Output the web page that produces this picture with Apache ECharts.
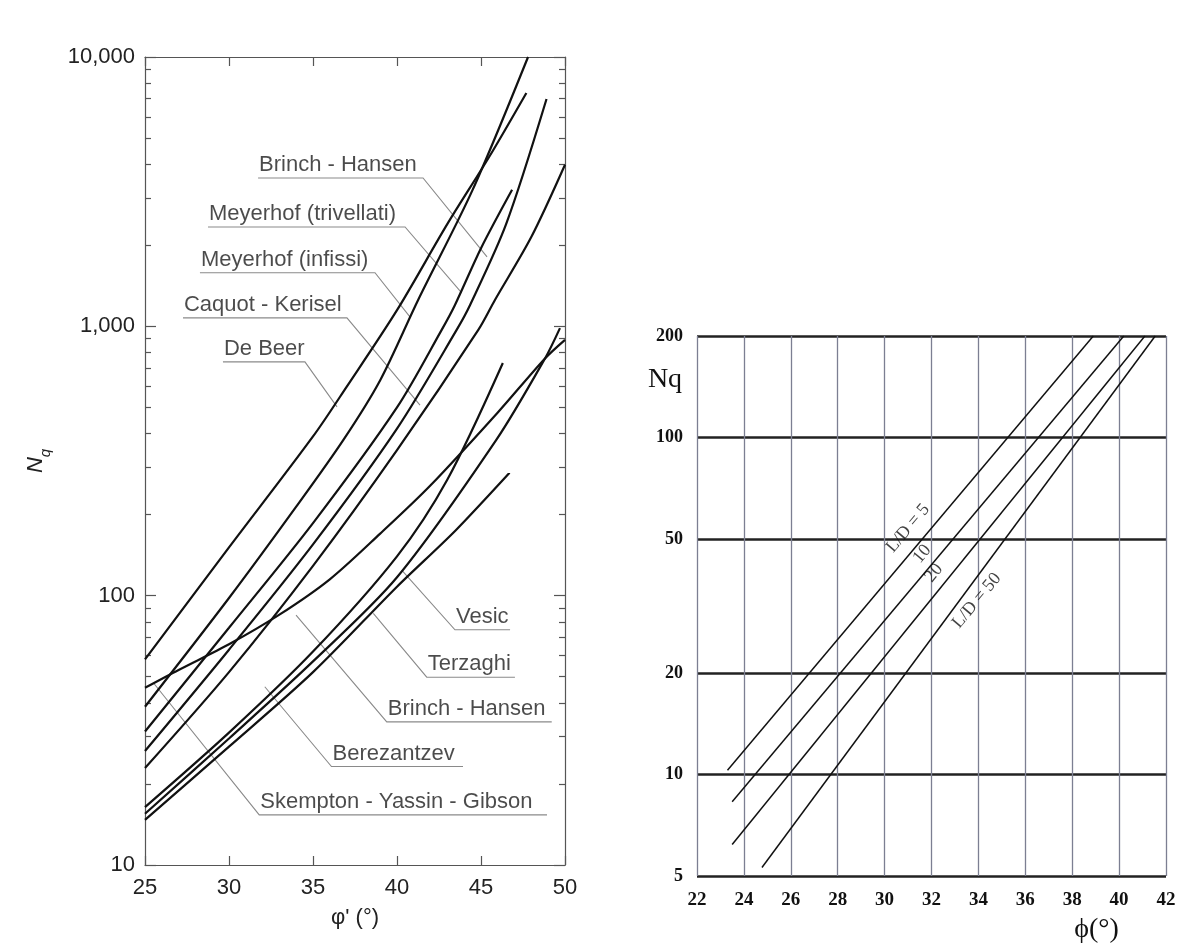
<!DOCTYPE html>
<html><head><meta charset="utf-8">
<script src="https://cdn.jsdelivr.net/npm/echarts@6/dist/echarts.min.js"></script>
<style>html,body{margin:0;padding:0;background:#fff}#c{width:1202px;height:949px}</style>
</head><body><div id="c"></div>
<script>
// ---------- LEFT CHART: Nq vs phi' (various authors) ----------
const phiTicksL = [25, 30, 35, 40, 45, 50];
const nqMajorL = [10, 100, 1000, 10000];
const nqMinorL = [20,30,40,50,60,70,80,90,200,300,400,500,600,700,800,900,2000,3000,4000,5000,6000,7000,8000,9000];

const curveDeBeer      = [[25,58],[30,151],[35,390],[37,596],[40,1148],[43,2400],[45.5,4270],[47.7,7350]];
const curveMeyInfissi  = [[25,38.7],[30,98],[34,214],[36.8,378],[39,631],[41.25,1250],[44.5,3210],[47.8,10000]];
const curveMeyTriv     = [[25,31.3],[30,76],[35,186],[40,500],[42.66,970],[43.45,1200],[45,1950],[46.85,3214]];
const curveCaquot      = [[25,26.5],[30,63],[35,155],[40,417],[43.55,970],[44.35,1200],[46.5,2400],[48.9,6980]];
const curveBrinchUp    = [[25,22.9],[30,52],[35,129],[40,347],[44.84,970],[45.83,1253],[48,2150],[50,3980]];
const curveSkempton    = [[25,45.5],[27,53],[30,66],[33,85],[36,115],[39,170],[42,257],[46,479],[48.81,760],[50,891]];
const curveTerzaghi    = [[25,15.5],[30,29.5],[35,57],[40,117],[45.9,378],[48.81,760],[49.7,985]];
const curveBerezantzev = [[25,16.4],[30,31],[35,62],[40,140],[43,270],[46.3,731]];
const curveVesic       = [[25,14.7],[30,27.5],[35,52],[40,108],[43.5,175],[46.7,286]];
const leftCurves = [curveDeBeer, curveMeyInfissi, curveMeyTriv, curveCaquot, curveBrinchUp,
                    curveSkempton, curveTerzaghi, curveBerezantzev, curveVesic];

// labels: text, underline phi start/end, underline Nq, leader end phi / Nq
const labelNames = ["Brinch - Hansen","Meyerhof (trivellati)","Meyerhof (infissi)","Caquot - Kerisel","De Beer",
                    "Vesic","Terzaghi","Brinch - Hansen","Berezantzev","Skempton - Yassin - Gibson"];
const labelPhiStart = [31.73, 28.75, 28.27, 27.26, 29.64, 43.45, 41.77, 39.39, 36.1, 31.8];
const labelPhiEnd   = [41.55, 40.48, 38.69, 37.02, 34.52, 46.73, 47.02, 49.21, 43.93, 48.93];
const labelNq       = [3556, 2339, 1581, 1075, 738, 74.7, 49.8, 34.0, 23.2, 15.35];
const leaderPhi     = [45.36, 43.85, 40.77, 41.37, 36.43, 40.28, 38.59, 33.99, 32.13, 25.52];
const leaderNq      = [1811, 1330, 1084, 510, 502, 124.5, 86, 84.7, 45.9, 47.3];
const labelUpper    = [true, true, true, true, true, false, false, false, false, false];

// ---------- RIGHT CHART: Nq vs phi for L/D ----------
const phiTicksR = [22,24,26,28,30,32,34,36,38,40,42];
const nqTicksR = [5, 10, 20, 50, 100, 200];
const ld5  = [[23.3,10.3],[38.9,200]];
const ld10 = [[23.5,8.3],[40.2,200]];
const ld20 = [[23.5,6.2],[41.1,200]];
const ld50 = [[24.77,5.3],[41.54,200]];
const ldLabels = ["L/D = 5", "10", "20", "L/D = 50"];
const ldLabelPos = [[31.0,53.8],[31.6,45.1],[32.1,39.6],[33.93,32.8]];

const sans = '"Liberation Sans", Arial, sans-serif';
const serif = '"Liberation Serif", "Times New Roman", serif';
const frame = {color:'#555', width:1.2};

const series = [];
leftCurves.forEach(c => series.push({
  type:'line', xAxisIndex:0, yAxisIndex:0, data:c, showSymbol:false, smooth:0.3,
  lineStyle:{color:'#111', width:2.2}, silent:true, z:3
}));
series.push({
  type:'lines', coordinateSystem:'cartesian2d', xAxisIndex:0, yAxisIndex:0, polyline:true, silent:true,
  lineStyle:{color:'#8a8a8a', width:1.1, opacity:1}, z:2,
  data: labelNames.map((n,i) => ({coords: labelUpper[i]
    ? [[labelPhiStart[i], labelNq[i]], [labelPhiEnd[i], labelNq[i]], [leaderPhi[i], leaderNq[i]]]
    : [[labelPhiEnd[i], labelNq[i]], [labelPhiStart[i], labelNq[i]], [leaderPhi[i], leaderNq[i]]]}))
});
series.push({
  type:'scatter', xAxisIndex:0, yAxisIndex:0, symbolSize:0, silent:true, z:4,
  data: labelNames.map((n,i) => ({name:n, value:[labelPhiStart[i], labelNq[i]]})),
  label:{show:true, formatter:p=>p.name, position:[1,-2], align:'left', verticalAlign:'bottom',
         fontFamily:sans, fontSize:22, lineHeight:22, color:'#1e1e1e'}
});
[ld5, ld10, ld20, ld50].forEach(c => series.push({
  type:'line', xAxisIndex:2, yAxisIndex:4, data:c, showSymbol:false,
  lineStyle:{color:'#111', width:1.5}, silent:true, z:5
}));
series.push({
  type:'scatter', xAxisIndex:2, yAxisIndex:4, symbolSize:0, silent:true, z:6,
  data: ldLabels.map((n,i)=>({name:n, value:ldLabelPos[i]})),
  label:{show:true, formatter:p=>p.name, position:'inside', align:'center', verticalAlign:'middle',
         rotate:50, fontFamily:serif, fontSize:18, color:'#111'}
});

const option = {
  backgroundColor:'#fff',
  animation:false,
  grid:[{left:145, top:57, width:420, height:808}, {left:697, top:336, width:469, height:542}],
  xAxis:[
    {gridIndex:0, type:'value', min:25, max:50, interval:5, position:'bottom',
     axisLine:{show:true, onZero:false, lineStyle:frame},
     axisTick:{show:true, inside:true, length:9, lineStyle:frame},
     axisLabel:{fontFamily:sans, fontSize:22, color:'#222', margin:12, customValues: phiTicksL},
     splitLine:{show:false},
     name:"φ' (°)", nameLocation:'middle', nameGap:42,
     nameTextStyle:{fontFamily:sans, fontSize:22, color:'#222'}},
    {gridIndex:0, type:'value', min:25, max:50, interval:5, position:'top',
     axisLine:{show:true, onZero:false, lineStyle:frame},
     axisTick:{show:true, inside:true, length:9, lineStyle:frame},
     axisLabel:{show:false}, splitLine:{show:false}},
    {gridIndex:1, type:'value', min:22, max:42, interval:2, position:'bottom',
     axisLine:{show:false}, axisTick:{show:false},
     axisLabel:{fontFamily:serif, fontSize:19, fontWeight:'bold', color:'#111', margin:15, customValues: phiTicksR},
     splitLine:{show:true, lineStyle:{color:'#7c7f92', width:1.3}},
     name:'ϕ(°)', nameLocation:'middle', nameGap:40,
     nameTextStyle:{fontFamily:serif, fontSize:28, color:'#111', padding:[0,0,0,330]}}
  ],
  yAxis:[
    {gridIndex:0, type:'log', logBase:10, min:10, max:10000, position:'left',
     axisLine:{show:true, onZero:false, lineStyle:frame},
     axisTick:{show:true, inside:true, length:11, lineStyle:frame, customValues:nqMajorL},
     axisLabel:{fontFamily:sans, fontSize:22, color:'#222', margin:10, customValues:nqMajorL,
                formatter:v=>Number(v).toLocaleString('en-US')},
     splitLine:{show:false},
     name:'{n|N}{q|q}', nameLocation:'middle', nameGap:92, nameRotate:90,
     nameTextStyle:{rich:{
       n:{fontFamily:sans, fontStyle:'italic', fontSize:22, lineHeight:28, verticalAlign:'top', color:'#222'},
       q:{fontFamily:sans, fontStyle:'italic', fontSize:15, lineHeight:15, verticalAlign:'bottom', color:'#222'}}}},
    {gridIndex:0, type:'log', logBase:10, min:10, max:10000, position:'left',
     axisLine:{show:false}, axisLabel:{show:false}, splitLine:{show:false},
     axisTick:{show:true, inside:true, length:6, lineStyle:frame, customValues:nqMinorL}},
    {gridIndex:0, type:'log', logBase:10, min:10, max:10000, position:'right',
     axisLine:{show:true, onZero:false, lineStyle:frame}, axisLabel:{show:false}, splitLine:{show:false},
     axisTick:{show:true, inside:true, length:11, lineStyle:frame, customValues:nqMajorL}},
    {gridIndex:0, type:'log', logBase:10, min:10, max:10000, position:'right',
     axisLine:{show:false}, axisLabel:{show:false}, splitLine:{show:false},
     axisTick:{show:true, inside:true, length:6, lineStyle:frame, customValues:nqMinorL}},
    {gridIndex:1, type:'log', logBase:10, min:5, max:200, position:'left',
     axisLine:{show:false},
     axisTick:{show:false, customValues:nqTicksR},
     axisLabel:{fontFamily:serif, fontSize:18, fontWeight:'bold', color:'#111', margin:14, customValues:nqTicksR},
     splitLine:{show:true, lineStyle:{color:'#222', width:2.6}},
     name:'Nq', nameLocation:'end', nameGap:-58,
     nameTextStyle:{fontFamily:serif, fontSize:28, color:'#111', align:'center', padding:[0,64,0,0]}}
  ],
  series
};
const chart = echarts.init(document.getElementById('c'));
chart.setOption(option);
</script></body></html>
